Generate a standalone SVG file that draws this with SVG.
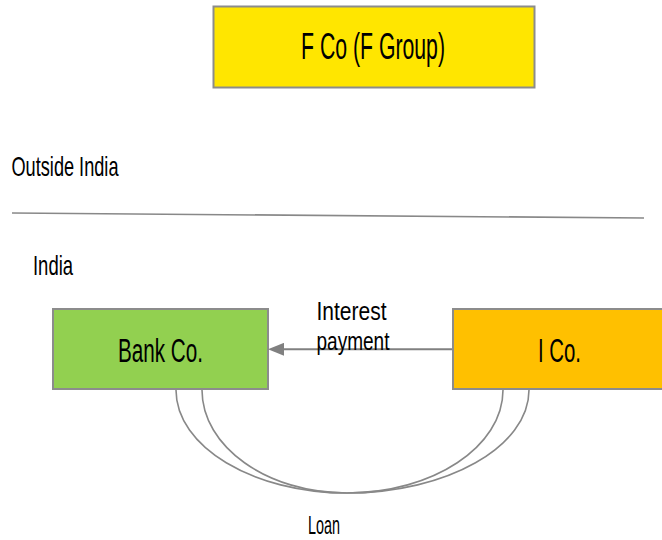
<svg xmlns="http://www.w3.org/2000/svg" width="662" height="540" viewBox="0 0 662 540">
<style>
text{font-family:"Liberation Sans Narrow","Liberation Sans","DejaVu Sans Condensed",sans-serif;fill:#000}
.box{stroke:#8c8c8c;stroke-width:2}
.conn{fill:none;stroke:#888;stroke-width:1.6}
.lbl{font-size:28px}
</style>
<defs>
<marker id="arr" markerWidth="16" markerHeight="13" refX="0" refY="6.5" orient="auto" markerUnits="userSpaceOnUse">
<path d="M16,6.5 L0,0 L0,13 Z" fill="#808080"/>
</marker>
</defs>
<rect width="662" height="540" fill="#fff"/>
<g id="fco">
<rect class="box" x="213.5" y="6.5" width="321" height="81" fill="#ffe600"/>
<text x="301" y="59" font-size="36" textLength="144" lengthAdjust="spacingAndGlyphs">F Co (F Group)</text>
</g>
<g id="regions">
<text class="lbl" x="11.5" y="176" textLength="107" lengthAdjust="spacingAndGlyphs">Outside India</text>
<line x1="12" y1="213" x2="644" y2="218" stroke="#888" stroke-width="1.6"/>
<text class="lbl" x="33" y="275" textLength="40" lengthAdjust="spacingAndGlyphs">India</text>
</g>
<g id="bankco">
<rect class="box" x="53" y="309" width="215" height="80" fill="#92d050"/>
<text x="118" y="362" font-size="33" textLength="85" lengthAdjust="spacingAndGlyphs">Bank Co.</text>
</g>
<g id="ico">
<rect class="box" x="453" y="309" width="220" height="80" fill="#ffc000"/>
<text x="538" y="362" font-size="33" textLength="43" lengthAdjust="spacingAndGlyphs">I Co.</text>
</g>
<g id="connectors">
<line x1="452" y1="349.3" x2="284" y2="349.3" stroke="#808080" stroke-width="2" marker-end="url(#arr)"/>
<path class="conn" d="M176,390 C176,446.7 253,493 347,493 C447,493 529,446.7 529,390"/>
<path class="conn" d="M202,390 C202,446.7 267,493 347,493 C433,493 503,446.7 503,390"/>
</g>
<g id="labels">
<text x="316.5" y="320" font-size="26" textLength="70" lengthAdjust="spacingAndGlyphs">Interest</text>
<text x="316.5" y="349.5" font-size="26" textLength="73" lengthAdjust="spacingAndGlyphs">payment</text>
<text x="308" y="534" font-size="26" textLength="32" lengthAdjust="spacingAndGlyphs">Loan</text>
</g>
</svg>
